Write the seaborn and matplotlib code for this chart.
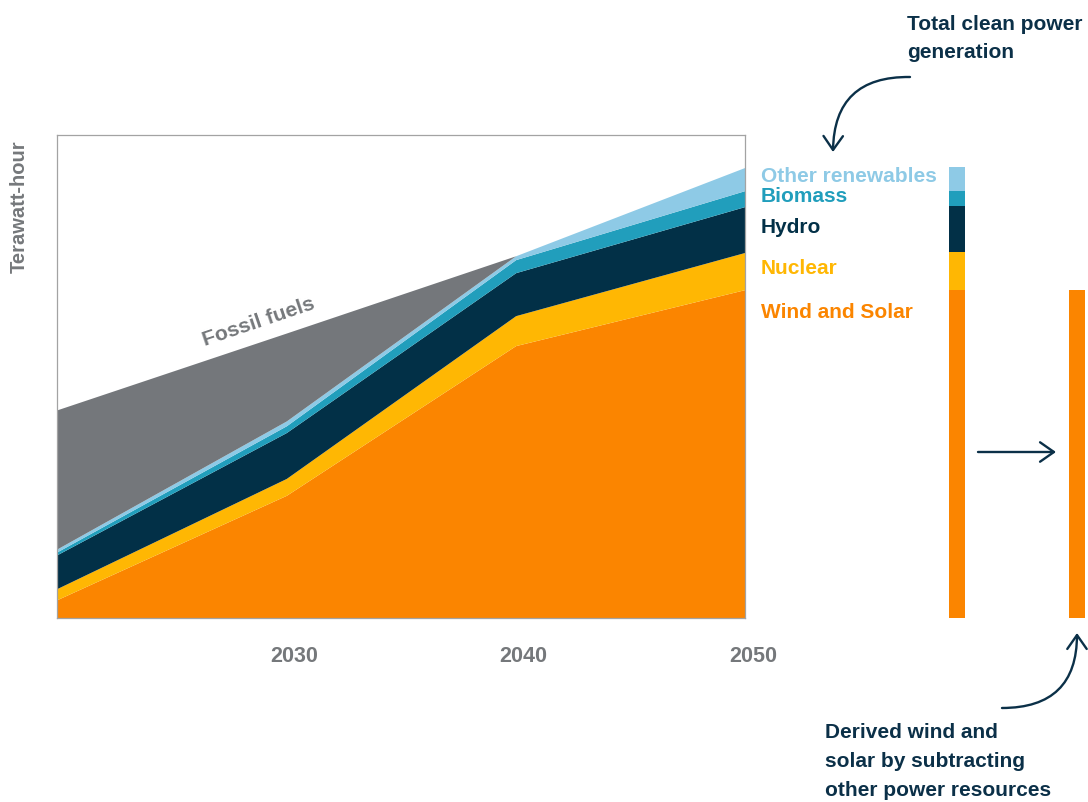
import numpy as np
import pandas as pd
import matplotlib
matplotlib.use("Agg")
import matplotlib.pyplot as plt
import matplotlib.transforms as mtransforms
import seaborn as sns

# generation by source, TWh
years = [2020, 2030, 2040, 2050]
wind_solar = [190, 1270, 2820, 3400]
nuclear = [115, 175, 310, 385]
hydro = [350, 475, 445, 475]
biomass = [30, 70, 135, 165]
other_renew = [30, 50, 40, 240]
fossil = [1440, 910, 0, 0]

sources = ["Wind and Solar", "Nuclear", "Hydro", "Biomass", "Other renewables"]
tick_years = [2030, 2040, 2050]

colors = ["#fb8500", "#ffb703", "#023047", "#219ebc", "#8ecae6"]
fossil_color = "#74777b"
gray = "#75787b"
navy = "#0b3048"

W, H = 1088, 802
sns.set_theme(style="white")
plt.rcParams["font.family"] = ["Liberation Sans", "DejaVu Sans"]

fig = plt.figure(figsize=(W / 100, H / 100), dpi=100)


def fx(x):
    return x / W


def fy(y):
    return 1 - y / H


ax = fig.add_axes([fx(57), fy(618), (745 - 57) / W, (618 - 135) / H])
series = [wind_solar, nuclear, hydro, biomass, other_renew, fossil]
ax.stackplot(years, *series, colors=colors + [fossil_color], linewidth=0)
ax.set_xlim(2020, 2050)
ax.set_ylim(0, 5000)
ax.set_yticks([])
ax.set_xticks(tick_years)
ax.set_xticklabels([str(y) for y in tick_years], fontsize=15.5, fontweight="bold", color=gray)
ax.tick_params(axis="x", length=0, pad=20)
offset = mtransforms.ScaledTranslation(0.08, 0, fig.dpi_scale_trans)
for lab in ax.get_xticklabels():
    lab.set_transform(lab.get_transform() + offset)
for sp in ax.spines.values():
    sp.set_color("#a3a3a3")
    sp.set_linewidth(0.9)

# y label
fig.text(fx(19), fy(207), "Terawatt-hour", rotation=90, ha="center", va="center",
         fontsize=14.5, fontweight="bold", color=gray)

# fossil fuels label
ax.text(2020 + (259 - 57) / 688 * 30, 5000 * (618 - 322) / 483, "Fossil fuels",
        rotation=18.7, rotation_mode="anchor", ha="center", va="center",
        fontsize=15.3, fontweight="bold", color=gray)

# source labels
label_y = [313, 268, 227, 197, 176]
for name, c, y in zip(sources, colors, label_y):
    fig.text(fx(761), fy(y), name, ha="left", va="center", fontsize=15,
             fontweight="bold", color=c)

# 2050 bars on the right
ax2 = fig.add_axes([fx(900), fy(618), (W - 900) / W, (618 - 135) / H])
cum_2050 = np.cumsum([s[-1] for s in series[:5]])
order = ["Total clean", "Derived"]
for i in reversed(range(5)):
    sns.barplot(x=["Total clean"], y=[cum_2050[i]], order=order, color=colors[i],
                width=16 / 120, saturation=1, errorbar=None, linewidth=0, ax=ax2)
sns.barplot(x=["Derived"], y=[wind_solar[-1]], order=order, color=colors[0],
            width=16 / 120, saturation=1, errorbar=None, linewidth=0, ax=ax2)
ax2.set_xlim(-0.475, -0.475 + (W - 900) / 120)
ax2.set_ylim(0, 5000)
ax2.axis("off")

# annotations
fig.text(fx(907), fy(38.5), "Total clean power\ngeneration", ha="left", va="center",
         fontsize=15, fontweight="bold", color=navy, linespacing=1.65)
fig.text(fx(825), fy(761.5), "Derived wind and\nsolar by subtracting\nother power resources",
         ha="left", va="center", fontsize=15, fontweight="bold", color=navy, linespacing=1.65)

arrow_kw = dict(arrowstyle="->,head_length=0.5,head_width=0.35", color=navy, lw=1.7,
                shrinkA=0, shrinkB=0, mutation_scale=20)
ax.annotate("", xy=(833, H - 152), xytext=(910, H - 77), xycoords="figure pixels",
            textcoords="figure pixels",
            arrowprops=dict(connectionstyle="arc3,rad=0.5", **arrow_kw))
ax.annotate("", xy=(1077, H - 633), xytext=(1002, H - 708), xycoords="figure pixels",
            textcoords="figure pixels",
            arrowprops=dict(connectionstyle="arc3,rad=0.5", **arrow_kw))
ax.annotate("", xy=(1056, H - 452), xytext=(978, H - 452), xycoords="figure pixels",
            textcoords="figure pixels", arrowprops=arrow_kw)

fig.savefig("out.png", dpi=100)
